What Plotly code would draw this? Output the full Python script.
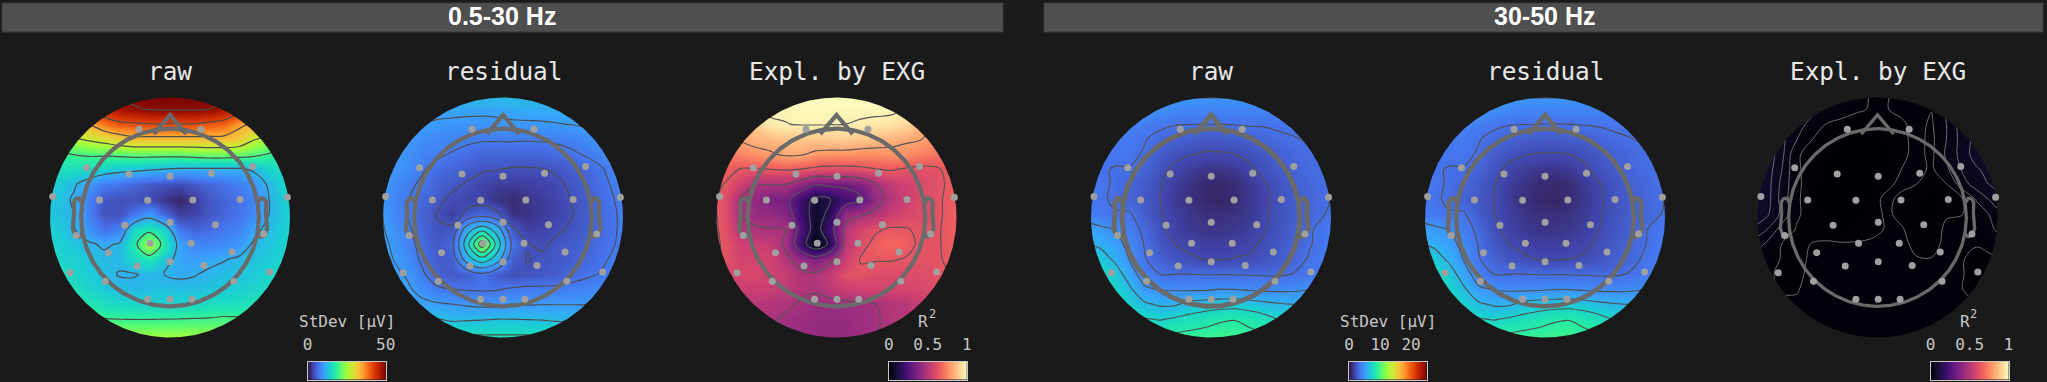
import numpy as np
import plotly.graph_objects as go

W, H = 2047, 382
BG = "#1a1a1a"

band_labels = ["0.5-30 Hz", "30-50 Hz"]
panel_titles = ["raw", "residual", "Expl. by EXG", "raw", "residual", "Expl. by EXG"]

grid_x = [-1.05, -0.925, -0.8, -0.675, -0.55, -0.425, -0.3, -0.175, -0.05, 0.075, 0.2, 0.325, 0.45, 0.575, 0.7, 0.825, 0.95, 1.075]
grid_y = [1.028, 0.903, 0.778, 0.653, 0.528, 0.403, 0.278, 0.153, 0.028, -0.097, -0.222, -0.347, -0.472, -0.597, -0.722, -0.847, -0.972, -1.097]

sensor_x = [-.258, .258, -.696, -.342, 0, .346, .688, -.978, -.588, -.186, .19, .584, .978, -.376, 0, .379, -.781, .781, -.164, .175, -.513, .517, -.275, 0, .283, -.833, .83, -.539, .532, -.186, 0, .182]
sensor_y = [.735, .735, .415, .3625, .343, .368, .424, .174, .146, .143, .146, .151, .168, -.065, -.04, -.06, -.151, -.1375, -.215, -.215, -.293, -.2875, -.404, -.368, -.401, -.46, -.454, -.532, -.532, -.682, -.682, -.682]

raw_low = [
[47,47,47,48,49,50,50,50,50,50,50,50,50,49,48,47,47,47],
[38,39,41,43,45,47,48,48.8,49,49,49,48.5,47,44,41,39,38,37],
[28,29,31,34,38,40,40.5,41,41,41,41,40,39,35,33,31,29,28],
[22,24,26,27.5,29,31,32.5,32.5,32.5,32.5,32.5,32.5,32.5,31.5,27,25,23,22],
[17,18,19.5,20,20,20.5,21,21,21,21,21.5,22,22,21.5,20.5,19,18,17],
[14,16,16,15.5,14.5,13.5,13,12.5,12,11.5,11.5,11.5,11.5,11.5,12.5,15,15.5,15],
[14,14,12.5,10,7.5,7,6,5,4.5,4,5,6,7,8,10,12.5,15,15],
[13.5,13.5,11.5,8,5,4.5,4.5,4,2.5,1.5,3,5,6,7,8.5,12,14.5,15],
[14,13,12,8,4.5,4.5,7,10,6,3,3.5,5,6,7,9,12,14,15],
[14.5,14,12.2,9.5,7,8,15.5,17.5,15,7.5,6,6.5,7.5,8.5,11,13,14.5,15],
[15,14.5,13.5,12.5,11.5,12.3,17.5,26,17.5,11,8.5,8.5,9,10,12.5,13.5,14.5,15],
[16,15,14.5,13.5,12.8,12.8,15.5,17,13.5,11,10.5,11.2,11.8,12.5,13.5,14,15,16],
[17,16,15,14,13,11.8,11.8,12.5,12,11.5,11.8,12.5,13,13.5,14,15,16,17],
[19,18,16.5,15,14,13,12.7,13,13,13,13,13.5,14,14.5,15,16,17,18],
[20,19,18,17,16,15.5,15,15,15,15,15.5,16,16,16,17,18,19,20],
[22,21,20.5,20,19.5,19.3,19.2,19.2,19.3,19.4,19.5,19.6,20,20,20.5,21,21.5,22],
[25,24.5,24,24,24,24,24,24,24,24,24,24,24,24,24,24,25,25],
[27,27,27,27,27,27,27,27,27,27,27,27,27,27,27,27,27,27],
]

residual_low = [
[12,12,12,12,12.5,13,13,13,13,13,13,13,13,12.5,12,12,12,12],
[11,11,11,11,11,11,11,11,11,11.5,11.5,11.5,11.5,11.5,11.5,11.5,11.5,11.5],
[12,11.5,11,10.3,10,9.8,9.6,9.5,9.7,9.8,9.9,10,10.2,10.4,10.8,11,11.5,12],
[11.5,10.8,10,9.2,8.8,8.4,8,7.7,7.7,7.7,7.6,7.7,7.9,8.2,8.9,9.6,10.3,11],
[11,10.3,9.5,8.5,7.9,7.2,6.5,6,6,6,6,6.1,6.4,7,7.7,8.5,9.7,10.5],
[10.8,9.8,9,7.7,6.5,6,5.3,4.8,4.6,4.3,4.3,4.4,4.9,5.5,6.2,7.2,8.8,10],
[10.6,9,8,7,5.8,5,4.3,3.6,3,3,3.2,3.4,4,5,5.8,6.8,8,10],
[10.4,8.6,7.6,6.2,5,4.1,3.6,3.4,2.4,1.8,2.6,3,3.6,4.6,5.5,6.5,7.6,10],
[11,9,7.4,5.8,4.4,3.2,5,6,5,2.2,2.4,3,3.5,4.4,5.5,6.4,7.4,10],
[11,9.6,8,6,4.7,5,12,15,12,5,3.2,3.5,4.2,4.8,5.6,6.4,7.4,10],
[11.5,10,8.5,6.5,5,6.5,15,24,15,7,4.6,4.2,4.9,5.3,5.9,6.7,7.5,10.5],
[12,10.4,9,7,5.3,5.5,12,15,12,5.5,4.4,4.8,5.1,5.7,6.2,7,8,11],
[12.5,11,10,7.8,6,5,5.5,7,5.2,4.5,4.7,5,5.5,6.4,7,7.6,8.6,11.5],
[13,12,10.8,9.3,7.8,7.4,7.2,7.1,7.2,7.7,8,8,8,8.2,8.5,9,10,12],
[14,13,12,11,10.6,10.3,9.9,9.6,9.7,10.3,10.1,10.2,10.2,10.2,10.2,10.8,11.5,13],
[15,14,13.5,13.4,13.3,12.7,12.9,13,13.2,13.2,13.1,13,12.7,12.8,13,13.5,14,15],
[17,15.5,15.5,15.5,15.5,16,16,16,16,16,16,16,16,16,15.5,15.5,15.5,16],
[18,18,18,18,18,18,18,18,18,18,18,18,18,18,18,18,18,18],
]

explained_low = [
[1,1,1,1,1,1,1,1,1,1,1,1,1,1,1,1,1,1],
[.96,.96,.96,.97,.98,.98,.99,.99,.99,.99,.99,.99,.99,.97,.96,.96,.96,.96],
[.85,.87,.86,.90,.962,.968,.975,.975,.973,.97,.96,.95,.94,.92,.84,.80,.78,.76],
[.76,.79,.815,.84,.85,.87,.88,.88,.89,.89,.88,.86,.84,.82,.805,.78,.74,.72],
[.72,.72,.74,.77,.79,.82,.815,.78,.77,.77,.76,.76,.77,.76,.73,.71,.69,.68],
[.66,.66,.63,.63,.635,.645,.634,.61,.60,.60,.61,.63,.645,.625,.61,.62,.66,.68],
[.66,.63,.55,.475,.47,.47,.40,.31,.33,.33,.37,.46,.53,.56,.59,.61,.65,.68],
[.66,.6,.46,.40,.36,.34,.2,.10,.13,.22,.27,.42,.5,.55,.6,.62,.65,.68],
[.66,.6,.46,.42,.42,.38,.2,.08,.16,.42,.45,.49,.54,.58,.6,.62,.65,.68],
[.66,.61,.50,.48,.47,.47,.25,.07,.24,.50,.58,.62,.645,.64,.62,.625,.65,.68],
[.66,.62,.56,.55,.53,.45,.20,.02,.16,.52,.6,.66,.68,.66,.62,.625,.65,.68],
[.66,.62,.57,.57,.57,.49,.42,.36,.44,.55,.64,.64,.64,.63,.62,.625,.645,.68],
[.6,.57,.58,.58,.56,.54,.49,.48,.54,.62,.62,.6,.6,.6,.6,.62,.635,.68],
[.55,.53,.55,.55,.54,.52,.49,.48,.52,.55,.56,.57,.57,.58,.58,.6,.62,.64],
[.5,.5,.5,.5,.49,.485,.455,.43,.43,.44,.45,.465,.49,.5,.55,.58,.6,.62],
[.49,.49,.49,.485,.48,.45,.43,.42,.42,.42,.44,.455,.49,.52,.55,.58,.6,.62],
[.49,.49,.49,.485,.47,.45,.43,.42,.42,.42,.44,.46,.49,.52,.55,.58,.6,.62],
[.49,.49,.49,.485,.47,.45,.43,.42,.42,.42,.44,.46,.49,.52,.55,.58,.6,.62],
]

raw_high = [
[5,5,5,5,5,5,5,5,5,5,5,5,5,5,5,5,5,5],
[5,5,5,5,4.8,4.6,4.4,4.2,4.2,4.2,4.2,4.2,4.2,4.3,4.4,4.6,4.8,5],
[4.8,4.6,4.4,4.1,3.9,3.6,3.45,3.42,3.41,3.4,3.45,3.5,3.5,3.6,3.65,3.8,4,4.2],
[4.4,4.2,3.9,3.7,3.45,3.1,2.9,2.7,2.5,2.5,2.6,2.8,3,3.2,3.35,3.5,3.7,4],
[4.2,3.8,3.6,3.6,3.3,2.6,2.25,2.05,1.9,1.9,2,2.2,2.55,2.9,3.1,3.3,3.55,3.8],
[4,3.5,3.35,3.35,2.9,2.3,1.75,1.5,1.25,1.2,1.4,1.85,2.3,2.65,3,3.2,3.35,3.7],
[3.9,3.6,3.3,3,2.6,2.05,1.55,1.1,.85,.75,.95,1.4,1.95,2.4,2.8,3.05,3.35,3.6],
[3.7,3.5,3.3,2.9,2.5,2,1.45,1.05,.8,.7,.9,1.35,1.85,2.35,2.75,3,3.3,3.6],
[4,3.7,3.45,3.5,2.6,2.05,1.6,1.25,1.05,1,1.15,1.45,1.9,2.35,2.75,3,3.4,3.7],
[5.6,5.1,4.75,3.9,3.1,2.2,1.7,1.4,1.25,1.25,1.35,1.6,1.95,2.4,2.85,3.3,3.7,4],
[6.3,5.9,5.3,4.4,3.3,2.45,2,1.75,1.6,1.6,1.65,1.85,2.15,2.6,2.95,3.35,3.7,4],
[7.5,7,5.9,4.7,3.45,2.9,2.4,2.15,1.95,1.95,2.05,2.1,2.4,2.75,3.1,3.5,3.8,4.2],
[8.5,7.8,7,5.4,4.1,3.4,3.4,3.4,3.35,3.35,3.35,3.3,3.25,3.25,3.45,3.7,4,4.4],
[9,8.5,7.5,6.4,5,4.7,4.65,4.6,4.6,4.8,4.75,4.6,4.5,4.5,4.55,4.75,5,5.2],
[9.5,9,8.3,7.2,6.4,6,6,6.6,6.8,6.9,7,6.8,6.5,6.3,6.15,6.5,6.8,7],
[9.5,9.3,8.8,8.3,7.7,7.5,7.8,8.1,8.5,8.85,8.95,8.6,8.1,7.55,7.7,7.9,8.2,8.5],
[10,9.8,9.5,9.4,9.2,9,9.1,9.3,9.4,9.5,9.5,9.3,9.1,9,9,9.2,9.5,10],
[10,10,10,10,10,10,10,10,10,10,10,10,10,10,10,10,10,10],
]

residual_high = [
[5,5,5,5,5,5,5,5,5,5,5,5,5,5,5,5,5,5],
[5,5,5,5,4.8,4.6,4.4,4.2,4.2,4.2,4.2,4.2,4.2,4.3,4.4,4.6,4.8,5],
[4.8,4.6,4.4,4.1,3.9,3.6,3.45,3.42,3.4,3.38,3.4,3.45,3.5,3.6,3.7,3.8,4,4.2],
[4.4,4.2,3.9,3.7,3.45,3.1,2.9,2.7,2.55,2.55,2.65,2.8,3,3.2,3.35,3.5,3.7,4],
[4.2,3.8,3.6,3.6,3.3,2.6,2.3,2.05,1.95,1.95,2,2.2,2.55,2.9,3.1,3.3,3.55,3.8],
[4,3.5,3.35,3.35,2.9,2.3,1.75,1.5,1.3,1.25,1.4,1.85,2.3,2.65,3,3.2,3.35,3.7],
[3.9,3.6,3.3,3,2.6,2.05,1.55,1.15,.9,.8,.95,1.4,1.95,2.4,2.8,3.05,3.35,3.6],
[3.7,3.5,3.3,2.9,2.5,2,1.45,1.05,.8,.7,.9,1.35,1.85,2.35,2.75,3,3.3,3.6],
[4,3.7,3.45,3.5,2.6,2.05,1.6,1.25,1.05,1,1.15,1.45,1.9,2.3,2.75,3,3.35,3.7],
[5.6,5.1,4.75,3.9,3.1,2.2,1.7,1.4,1.25,1.25,1.35,1.6,2,2.4,2.85,3.3,3.7,4],
[6.3,5.9,5.3,4.4,3.3,2.45,2,1.75,1.6,1.6,1.65,1.85,2.15,2.6,2.95,3.35,3.7,4],
[7.5,7,5.9,4.7,3.45,2.9,2.4,2.15,1.95,1.95,2,2.1,2.4,2.75,3.1,3.5,3.8,4.2],
[8.5,7.8,7,5.4,4.1,3.4,3.4,3.4,3.35,3.35,3.35,3.3,3.25,3.25,3.45,3.7,4,4.4],
[9,8.5,7.5,6.4,5,4.7,4.6,4.55,4.6,4.75,4.75,4.6,4.5,4.5,4.55,4.75,5,5.2],
[9.5,9,8.3,7.2,6.4,6,6,6.6,6.8,6.9,7,6.8,6.5,6.3,6.15,6.5,6.8,7],
[9.5,9.3,8.8,8.3,7.7,7.5,7.8,8.1,8.5,8.85,8.95,8.6,8.1,7.55,7.7,7.9,8.2,8.5],
[10,9.8,9.5,9.4,9.2,9,9.1,9.3,9.4,9.5,9.5,9.3,9.1,9,9,9.2,9.5,10],
[10,10,10,10,10,10,10,10,10,10,10,10,10,10,10,10,10,10],
]

explained_high = [
[.07,.07,.06,.05,.04,.03,.02,.017,.008,.008,.016,.014,.012,.03,.05,.065,.075,.08],
[.08,.07,.06,.05,.035,.02,.017,.012,.009,.0095,.013,.0105,.0105,.03,.048,.065,.075,.08],
[.09,.08,.055,.037,.02,.0095,.006,.004,.004,.005,.008,.014,.008,.027,.052,.07,.08,.085],
[.085,.075,.05,.028,.0105,.005,.004,.003,.003,.004,.006,.015,.006,.027,.05,.068,.078,.082],
[.085,.075,.05,.012,.005,.004,.003,.002,.002,.002,.006,.015,.006,.03,.05,.07,.075,.078],
[.08,.072,.045,.012,.005,.003,.002,.001,.001,.004,.01,.016,.007,.024,.045,.059,.068,.074],
[.08,.07,.04,.013,.004,.002,.001,.001,.001,.006,.014,.01,.004,.0095,.035,.053,.063,.07],
[.08,.07,.038,.012,.004,.002,.001,.001,.004,.014,.006,.003,.002,.003,.008,.029,.048,.065],
[.08,.065,.04,.012,.005,.003,.002,.003,.005,.012,.007,.003,.003,.009,.0095,.015,.03,.05],
[.06,.045,.02,.009,.004,.003,.003,.005,.006,.011,.011,.005,.005,.012,.014,.013,.024,.04],
[.04,.024,.01,.006,.0105,.012,.011,.011,.0125,.013,.014,.006,.006,.013,.014,.011,.014,.02],
[.028,.018,.009,.006,.012,.015,.015,.015,.015,.015,.015,.011,.0105,.014,.011,.006,.008,.009],
[.02,.012,.008,.006,.014,.016,.016,.016,.016,.016,.016,.015,.014,.014,.011,.005,.005,.006],
[.015,.013,.009,.009,.014,.016,.016,.016,.016,.016,.016,.016,.015,.014,.0105,.005,.005,.006],
[.014,.012,.012,.012,.015,.016,.016,.016,.016,.016,.016,.016,.015,.013,.012,.011,.01,.01],
[.013,.013,.013,.013,.013,.013,.013,.013,.013,.013,.013,.013,.013,.013,.013,.013,.013,.013],
[.012,.012,.012,.012,.012,.012,.012,.012,.012,.012,.012,.012,.012,.012,.012,.012,.012,.012],
[.012,.012,.012,.012,.012,.012,.012,.012,.012,.012,.012,.012,.012,.012,.012,.012,.012,.012],
]

panel_values = [raw_low, residual_low, explained_low, raw_high, residual_high, explained_high]
panel_colorscale = ["Turbo", "Turbo", "Magma", "Turbo", "Turbo", "Magma"]
panel_zmax = [50, 50, 1, 25, 25, 1]
panel_levels = [(12, 49, 7.3), (4.5, 22, 2.9), (.13, .98, .168), (2, 9.1, 1.4), (2, 9.1, 1.4), (.01, .08, .017)]
panel_contour_color = ["#4d4d4d", "#4d4d4d", "#555555", "#505050", "#505050", "#777777"]
panel_contour_width = [1.2, 1.1, 1.1, 1.1, 1.1, 0.9]
panel_head_width = [4.2, 4.2, 4.2, 5, 4.5, 3.3]
panel_center_x = [170, 503, 836.5, 1211, 1545, 1877.5]
panel_dot_shift = [0, 0, 0.004, 0.002, 0, 0.006]

colorbar_titles = ["StDev [µV]", "R", "StDev [µV]", "R"]
colorbar_ticks = [[0, 50], [0, 0.5, 1], [0, 10, 20], [0, 0.5, 1]]
colorbar_ticktext = [["0", "50"], ["0", "0.5", "1"], ["0", "10", "20"], ["0", "0.5", "1"]]
colorbar_max = [50, 1, 25, 1]
colorbar_scale = ["Turbo", "Magma", "Turbo", "Magma"]
colorbar_left = [307.5, 888.7, 1349, 1930.6]
colorbar_right = [385.7, 966.7, 1426.6, 2008.6]
colorbar_title_x = [347, 922.5, 1388, 1964.5]
exponent_x = [932, 1973.5]

# head outline, in units of the map radius
HEAD_R = 0.74
nose_x = [-0.135, 0, 0.135]
nose_y = [0.695, 0.855, 0.695]
ear_x = [.497, .510, .518, .5299, .5419, .54, .547, .532, .510, .489]
ear_y = [.0855, .1075, .1083, .1046, .0855, .0245, -.0632, -.1013, -.1084, -.0899]


def px(x):
    return x / W


def py(y):
    return 1 - y / H


CY = 217.5
HALF = 144.0
RNG = HALF / 120.0
OUT = RNG * 1.15
fig = go.Figure()
layout = {}
ang = np.linspace(0, 2 * np.pi, 361)

for i in range(6):
    n = i + 1
    xa, ya = ("x", "y") if n == 1 else (f"x{n}", f"y{n}")
    cx = panel_center_x[i]
    layout["xaxis" if n == 1 else f"xaxis{n}"] = dict(
        domain=[px(cx - HALF), px(cx + HALF)], range=[-RNG, RNG], visible=False, fixedrange=True)
    layout["yaxis" if n == 1 else f"yaxis{n}"] = dict(
        domain=[py(CY + HALF), py(CY - HALF)], range=[-RNG, RNG], visible=False, fixedrange=True, anchor=xa)
    z = panel_values[i][::-1]
    y = grid_y[::-1]
    fig.add_trace(go.Heatmap(x=grid_x, y=y, z=z, colorscale=panel_colorscale[i], zmin=0, zmax=panel_zmax[i],
                             zsmooth="best", showscale=False, hoverinfo="skip", xaxis=xa, yaxis=ya))
    s, e, d = panel_levels[i]
    fig.add_trace(go.Contour(x=grid_x, y=y, z=z, showscale=False, hoverinfo="skip", xaxis=xa, yaxis=ya,
                             contours=dict(coloring="none", start=s, end=e, size=d, showlabels=False),
                             line=dict(color=panel_contour_color[i], width=panel_contour_width[i], smoothing=1)))
    # mask everything outside the unit circle: outer square one way, circle the other way
    mx = [OUT, OUT, -OUT, -OUT, OUT, OUT] + list(np.cos(-ang)) + [OUT]
    my = [0, OUT, OUT, -OUT, -OUT, 0] + list(np.sin(-ang)) + [0]
    fig.add_trace(go.Scatter(x=mx, y=my, mode="lines", line=dict(width=0), fill="toself", fillcolor=BG,
                             hoverinfo="skip", showlegend=False, xaxis=xa, yaxis=ya))
    headline = dict(color="#6a6a6a", width=panel_head_width[i])
    # head circle
    fig.add_trace(go.Scatter(x=HEAD_R * np.cos(ang), y=HEAD_R * np.sin(ang), mode="lines", line=headline,
                             hoverinfo="skip", showlegend=False, xaxis=xa, yaxis=ya))
    # nose
    fig.add_trace(go.Scatter(x=nose_x, y=nose_y, mode="lines", line=headline,
                             hoverinfo="skip", showlegend=False, xaxis=xa, yaxis=ya))
    # ears
    for side in (-1, 1):
        fig.add_trace(go.Scatter(x=[side * v * 2 * HEAD_R for v in ear_x], y=[v * 2 * HEAD_R for v in ear_y],
                                 mode="lines", line=headline, hoverinfo="skip", showlegend=False, xaxis=xa, yaxis=ya))
    # sensors
    fig.add_trace(go.Scatter(x=[v + panel_dot_shift[i] for v in sensor_x], y=sensor_y, mode="markers",
                             marker=dict(color="#a0a0a0", size=7, line=dict(width=0)),
                             hoverinfo="skip", showlegend=False, xaxis=xa, yaxis=ya))

BAR_TOP, BAR_BOTTOM = 362.0, 379.5
for j in range(4):
    n = 7 + j
    xa, ya = f"x{n}", f"y{n}"
    layout[f"xaxis{n}"] = dict(
        domain=[px(colorbar_left[j]), px(colorbar_right[j])], range=[0, colorbar_max[j]], side="top",
        tickvals=colorbar_ticks[j], ticktext=colorbar_ticktext[j], ticks="outside", ticklen=5,
        tickcolor="rgba(0,0,0,0)", showline=True, mirror=True, linecolor="#c8c8c8", linewidth=1, showgrid=False,
        zeroline=False, tickangle=0, fixedrange=True, anchor=ya, automargin=False,
        tickfont=dict(family="DejaVu Sans Mono", size=16, color="#c8c8c8"))
    layout[f"yaxis{n}"] = dict(
        domain=[py(BAR_BOTTOM), py(BAR_TOP)], range=[0, 1], showticklabels=False, ticks="", tickvals=[], showline=True,
        mirror=True, linecolor="#c8c8c8", linewidth=1, showgrid=False, zeroline=False, fixedrange=True, anchor=xa)
    xs = np.linspace(0, colorbar_max[j], 128)
    fig.add_trace(go.Heatmap(x=xs, y=[0, 1], z=[xs, xs], colorscale=colorbar_scale[j], zmin=0, zmax=colorbar_max[j],
                             showscale=False, hoverinfo="skip", xaxis=xa, yaxis=ya))

shapes = []
for x0, x1 in [(2, 1003), (1044, 2043)]:
    shapes.append(dict(type="rect", xref="paper", yref="paper", x0=px(x0), x1=px(x1), y0=py(32), y1=py(3),
                       fillcolor="#4f4f4f", line=dict(color="#3c3c3c", width=1), layer="below"))

annotations = []
for label, x in zip(band_labels, [502, 1544]):
    annotations.append(dict(text=f"<b>{label}</b>", x=px(x), y=py(16), xref="paper", yref="paper", showarrow=False,
                            xanchor="center", yanchor="middle",
                            font=dict(family="Liberation Sans", size=25, color="#ffffff")))
for t, x in zip(panel_titles, panel_center_x):
    annotations.append(dict(text=t, x=px(x), y=py(72), xref="paper", yref="paper", showarrow=False,
                            xanchor="center", yanchor="middle",
                            font=dict(family="DejaVu Sans Mono", size=24.4, color="#e8e8e8")))
for t, x in zip(colorbar_titles, colorbar_title_x):
    annotations.append(dict(text=t, x=px(x), y=py(321), xref="paper", yref="paper", showarrow=False,
                            xanchor="center", yanchor="middle",
                            font=dict(family="DejaVu Sans Mono", size=16, color="#c8c8c8")))
for x in exponent_x:
    annotations.append(dict(text="2", x=px(x), y=py(314), xref="paper", yref="paper", showarrow=False,
                            xanchor="center", yanchor="middle",
                            font=dict(family="DejaVu Sans Mono", size=12, color="#c8c8c8")))

fig.update_layout(width=W, height=H, margin=dict(l=0, r=0, t=0, b=0, autoexpand=False), paper_bgcolor=BG, plot_bgcolor=BG,
                  showlegend=False, shapes=shapes, annotations=annotations, **layout)
fig.write_html("out.html", config=dict(displayModeBar=False),
               post_script="document.body.style.margin='0';document.body.style.background='#1a1a1a';document.body.style.overflow='hidden';")
